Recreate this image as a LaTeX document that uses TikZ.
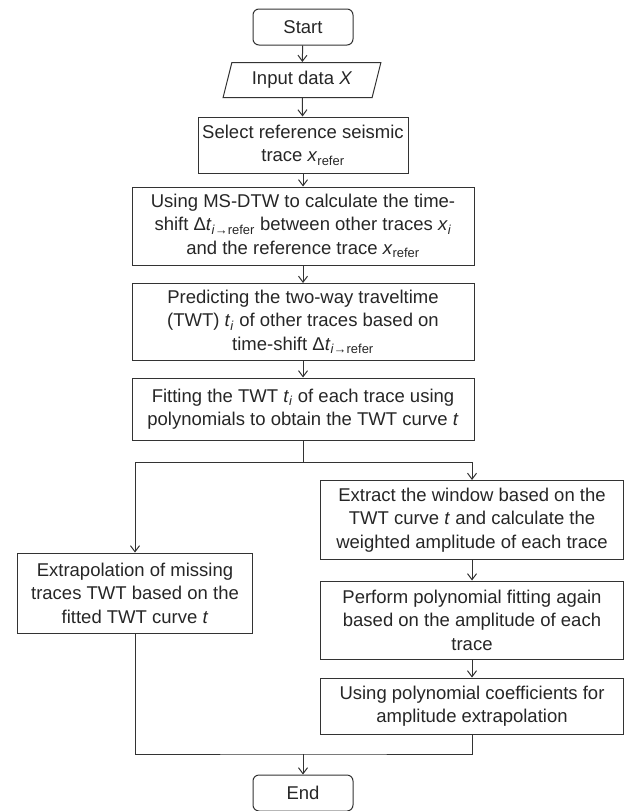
\documentclass[tikz,border=0pt]{standalone}
\usepackage{fontspec}
\setmainfont{Liberation Sans}
\usetikzlibrary{arrows.meta, shapes.geometric}

\newcommand{\xrefer}{\textit{x}\textsubscript{refer}}
\newcommand{\xsubi}{\textit{x}\textsubscript{\textit{i}}}
\newcommand{\tsubi}{\textit{t}\textsubscript{\textit{i}}}
\newcommand{\dtrefer}{Δ\textit{t}\textsubscript{\textit{i}→refer}}

\tikzset{
  procbox/.style={draw=black!80, text=black!85, line width=1pt, align=center, inner sep=3pt,
    font=\fontsize{18.5}{23.5}\selectfont},
  termbox/.style={procbox, rounded corners=6pt, minimum width=100pt, minimum height=36pt},
  iobox/.style={procbox, trapezium, trapezium left angle=74, trapezium right angle=106,
    trapezium stretches=true, minimum width=158pt, minimum height=35pt},
  flow/.style={-{Straight Barb[length=6pt,width=9pt]}, draw=black!80, line width=1pt},
  link/.style={draw=black!80, line width=1pt}
}

\begin{document}
\begin{tikzpicture}[x=1pt, y=-1pt]
\useasboundingbox (0,0) rectangle (629,811);

% main column
\node[termbox] (start) at (303,27) {Start};
\node[iobox] (input) at (302,80) {Input data \textit{X}};
\node[procbox, minimum width=210pt, minimum height=56pt] (select) at (303,145)
  {Select reference seismic\\trace \xrefer};
\node[procbox, minimum width=342pt, minimum height=78pt] (msdtw) at (303,226)
  {Using MS-DTW to calculate the time-\\shift \dtrefer{} between other traces \xsubi\\and the reference trace \xrefer};
\node[procbox, minimum width=342pt, minimum height=77pt] (predict) at (303,322)
  {Predicting the two-way traveltime\\(TWT) \tsubi{} of other traces based on\\time-shift \dtrefer};
\node[procbox, minimum width=342pt, minimum height=62pt] (fit) at (303,409)
  {Fitting the TWT \tsubi{} of each trace using\\polynomials to obtain the TWT curve \textit{t}};

% left branch
\node[procbox, minimum width=235pt, minimum height=80pt] (missing) at (135,593)
  {Extrapolation of missing\\traces TWT based on the\\fitted TWT curve \textit{t}};

% right branch
\node[procbox, minimum width=303pt, minimum height=79pt] (extract) at (472,520)
  {Extract the window based on the\\TWT curve \textit{t} and calculate the\\weighted amplitude of each trace};
\node[procbox, minimum width=303pt, minimum height=78pt] (perform) at (472,620)
  {Perform polynomial fitting again\\based on the amplitude of each\\trace};
\node[procbox, minimum width=303pt, minimum height=56pt] (coeff) at (472,706)
  {Using polynomial coefficients for\\amplitude extrapolation};

\node[termbox] (end) at (303,793) {End};

\coordinate (split) at (303,462);
\coordinate (merge) at (303,754);

% connectors
\draw[flow] (start) -- (input);
\draw[flow] (input) -- (select);
\draw[flow] (select) -- (msdtw);
\draw[flow] (msdtw) -- (predict);
\draw[flow] (predict) -- (fit);
\draw[link] (fit) -- (split);
\draw[flow] (split) -| (missing);
\draw[flow] (split) -| (extract);
\draw[flow] (extract) -- (perform);
\draw[flow] (perform) -- (coeff);
\draw[link] (missing) |- (merge) -| (coeff);
\draw[flow] (merge) -- (end);
\end{tikzpicture}
\end{document}
